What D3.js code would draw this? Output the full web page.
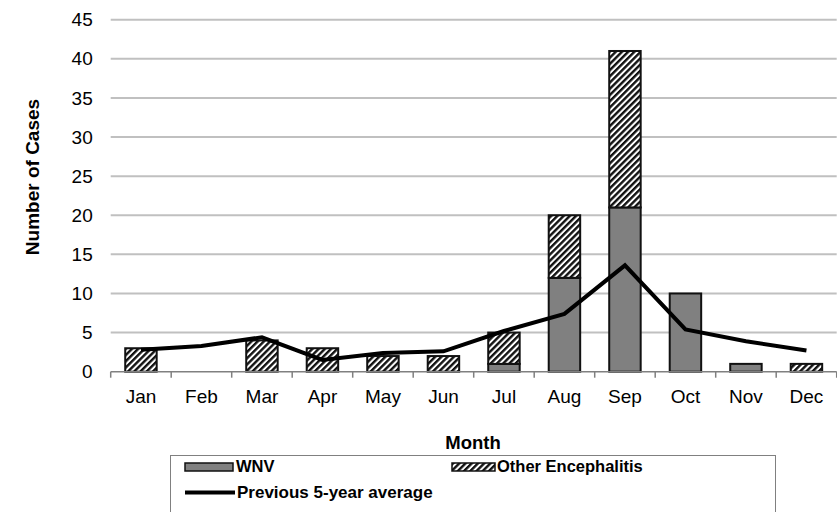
<!DOCTYPE html>
<html><head><meta charset="utf-8">
<script src="https://cdn.jsdelivr.net/npm/d3@7"></script>
<style>body{margin:0;background:#fff}svg{display:block;font-family:Arial,"Liberation Sans",sans-serif}</style>
</head><body>
<svg id="c" width="837" height="512"></svg>
<script>
const months = ["Jan","Feb","Mar","Apr","May","Jun","Jul","Aug","Sep","Oct","Nov","Dec"];
const wnv   = [0,0,0,0,0,0,1,12,21,10,1,0];
const other = [3,0,4,3,2,2,4,8,20,0,0,1];
const avg5  = [2.8,3.3,4.4,1.5,2.4,2.6,5.2,7.4,13.6,5.4,3.9,2.7];
const yTicks = [0,5,10,15,20,25,30,35,40,45];

const svg = d3.select("#c");
const L = 110.7, R = 836.7, T = 19.7, B = 371.7;
const x = d3.scaleBand().domain(months).range([L,R]).padding(0);
const y = d3.scaleLinear().domain([0,45]).range([B,T]);

const defs = svg.append("defs");
const pat = defs.append("pattern").attr("id","hatch").attr("patternUnits","userSpaceOnUse")
  .attr("width",4.4).attr("height",4.4).attr("patternTransform","rotate(45)");
pat.append("rect").attr("width",4.4).attr("height",4.4).attr("fill","#fff");
pat.append("rect").attr("width",2.4).attr("height",4.4).attr("fill","#111");

// gridlines
svg.append("g").selectAll("line").data(yTicks.filter(d=>d>0)).join("line")
  .attr("x1",L).attr("x2",R).attr("y1",d=>y(d)).attr("y2",d=>y(d))
  .attr("stroke","#c0c0c0").attr("stroke-width",2);

// y axis labels
const ya = svg.append("g").attr("transform",`translate(${L},0)`)
  .call(d3.axisLeft(y).tickValues(yTicks).tickSize(0).tickPadding(18));
ya.select(".domain").remove();
ya.selectAll("text").attr("font-size",19).attr("font-family","Arial,'Liberation Sans',sans-serif").attr("fill","#000");

// x axis
const xa = svg.append("g").attr("transform",`translate(0,${B})`)
  .call(d3.axisBottom(x).tickSize(0).tickPadding(18));
xa.select(".domain").remove();
xa.selectAll("text").attr("font-size",19).attr("font-family","Arial,'Liberation Sans',sans-serif").attr("fill","#000").attr("dy","0.71em");

// bars
const bw = x.bandwidth()*0.52, off = (x.bandwidth()-bw)/2;
const g = svg.append("g");
months.forEach((m,i)=>{
  if (wnv[i]>0) g.append("rect").attr("x",x(m)+off).attr("width",bw)
     .attr("y",y(wnv[i])).attr("height",y(0)-y(wnv[i]))
     .attr("fill","#808080").attr("stroke","#111").attr("stroke-width",2);
  if (other[i]>0) g.append("rect").attr("x",x(m)+off).attr("width",bw)
     .attr("y",y(wnv[i]+other[i])).attr("height",y(wnv[i])-y(wnv[i]+other[i]))
     .attr("fill","url(#hatch)").attr("stroke","#111").attr("stroke-width",2);
});

// axis baseline + ticks
svg.append("line").attr("x1",L).attr("x2",R).attr("y1",B).attr("y2",B).attr("stroke","#808080").attr("stroke-width",1.5);
svg.append("g").selectAll("line").data(months.concat(["_end"])).join("line")
  .attr("x1",(d,i)=>L+i*x.step()).attr("x2",(d,i)=>L+i*x.step())
  .attr("y1",B).attr("y2",B+6).attr("stroke","#808080").attr("stroke-width",1.5);

// average line
svg.append("path").datum(avg5)
  .attr("d",d3.line().x((d,i)=>x(months[i])+x.bandwidth()/2).y(d=>y(d)))
  .attr("fill","none").attr("stroke","#000").attr("stroke-width",4).attr("stroke-linejoin","miter");

// axis titles
svg.append("text").attr("x",473).attr("y",449).attr("text-anchor","middle")
  .attr("font-size",18.5).attr("font-weight","bold").text("Month");
svg.append("text").attr("transform","translate(39,177) rotate(-90)").attr("text-anchor","middle")
  .attr("font-size",19).attr("font-weight","bold").text("Number of Cases");

// legend
const lg = svg.append("g");
lg.append("rect").attr("x",170.5).attr("y",455.5).attr("width",605).attr("height",70)
  .attr("fill","#fff").attr("stroke","#808080").attr("stroke-width",1);
lg.append("rect").attr("x",185).attr("y",463).attr("width",48).attr("height",8)
  .attr("fill","#808080").attr("stroke","#111").attr("stroke-width",1.5);
lg.append("text").attr("x",236).attr("y",472).attr("font-size",16.5).attr("font-weight","bold").text("WNV");
lg.append("rect").attr("x",452).attr("y",463).attr("width",43).attr("height",8)
  .attr("fill","url(#hatch)").attr("stroke","#111").attr("stroke-width",1.5);
lg.append("text").attr("x",497).attr("y",472).attr("font-size",16.5).attr("font-weight","bold").text("Other Encephalitis");
lg.append("line").attr("x1",185).attr("x2",235).attr("y1",492.5).attr("y2",492.5).attr("stroke","#000").attr("stroke-width",4);
lg.append("text").attr("x",237).attr("y",498).attr("font-size",17).attr("font-weight","bold").text("Previous 5-year average");
</script>
</body></html>
